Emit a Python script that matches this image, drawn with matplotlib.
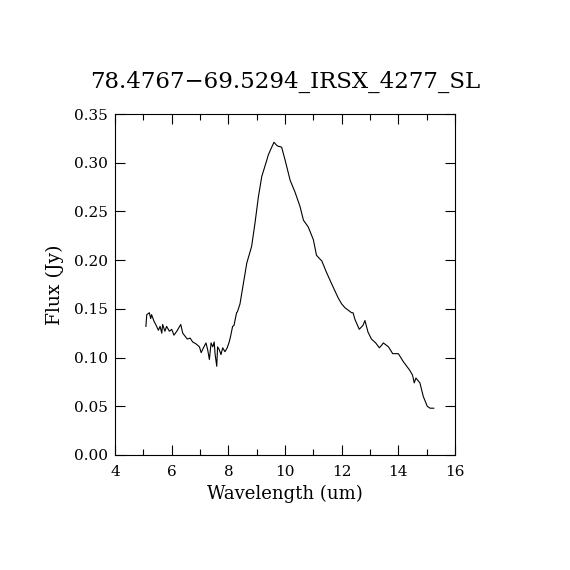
import numpy as np
import matplotlib.pyplot as plt
from matplotlib.ticker import MultipleLocator

# spectrum (wavelength in um, flux in Jy)
wavelength = [
    5.09, 5.12, 5.21, 5.26, 5.29, 5.38, 5.47, 5.53, 5.59, 5.65,
    5.68, 5.76, 5.82, 5.92, 6.00, 6.08, 6.18, 6.32, 6.39, 6.47,
    6.55, 6.65, 6.74, 6.86, 6.98, 7.04, 7.12, 7.21, 7.27, 7.33,
    7.39, 7.45, 7.50, 7.53, 7.59, 7.62, 7.68, 7.74, 7.80, 7.88,
    7.96, 8.03, 8.08, 8.15, 8.20, 8.24, 8.29, 8.32, 8.41, 8.53,
    8.65, 8.82, 8.94, 9.06, 9.18, 9.35, 9.41, 9.50, 9.61, 9.70,
    9.75, 9.88, 10.00, 10.18, 10.35, 10.53, 10.65, 10.82, 11.00, 11.11,
    11.30, 11.47, 11.64, 11.88, 12.00, 12.12, 12.35, 12.40, 12.47, 12.62,
    12.75, 12.82, 12.93, 13.05, 13.20, 13.33, 13.42, 13.47, 13.56, 13.65,
    13.80, 14.00, 14.17, 14.40, 14.50, 14.56, 14.62, 14.76, 14.88, 15.02,
    15.12, 15.25,
]
flux = [
    0.132, 0.144, 0.146, 0.140, 0.144, 0.137, 0.132, 0.128, 0.132, 0.125,
    0.134, 0.127, 0.132, 0.127, 0.129, 0.123, 0.127, 0.134, 0.125, 0.122,
    0.119, 0.120, 0.116, 0.114, 0.111, 0.105, 0.110, 0.115, 0.108, 0.098,
    0.115, 0.111, 0.116, 0.104, 0.091, 0.111, 0.108, 0.103, 0.110, 0.106,
    0.110, 0.116, 0.122, 0.132, 0.133, 0.139, 0.146, 0.147, 0.155, 0.176,
    0.197, 0.214, 0.238, 0.265, 0.286, 0.302, 0.308, 0.314, 0.321, 0.318,
    0.317, 0.316, 0.303, 0.282, 0.270, 0.255, 0.241, 0.234, 0.221, 0.205,
    0.199, 0.187, 0.176, 0.161, 0.155, 0.151, 0.146, 0.146, 0.139, 0.129,
    0.133, 0.138, 0.126, 0.119, 0.115, 0.110, 0.113, 0.115, 0.113, 0.111,
    0.104, 0.104, 0.096, 0.087, 0.082, 0.074, 0.079, 0.074, 0.060, 0.050,
    0.048, 0.048,
]

title = "78.4767\u221269.5294_IRSX_4277_SL"

plt.rcParams['font.family'] = ['DejaVu Serif']

fig = plt.figure(figsize=(5.7, 5.7), dpi=100)
ax = fig.add_axes([0.2018, 0.2018, 0.5965, 0.5982])

ax.plot(wavelength, flux, color='black', linewidth=0.8)

ax.set_xlim(4, 16)
ax.set_ylim(0, 0.35)
ax.xaxis.set_major_locator(MultipleLocator(2))
ax.xaxis.set_minor_locator(MultipleLocator(1))
ax.yaxis.set_major_locator(MultipleLocator(0.05))
ax.yaxis.set_major_formatter(plt.FormatStrFormatter('%.2f'))
ax.tick_params(which='both', direction='in', top=True, right=True,
               labelsize=11, width=0.8)
ax.tick_params(axis='x', pad=7)
ax.tick_params(axis='y', pad=5)
ax.tick_params(which='major', length=7)
ax.tick_params(which='minor', length=4)
for spine in ax.spines.values():
    spine.set_linewidth(0.8)

ax.set_xlabel('Wavelength (um)', fontsize=13, labelpad=4)
ax.set_ylabel('Flux (Jy)', fontsize=13.5, labelpad=7)
ax.set_title(title, fontsize=16.5, pad=19)

fig.savefig('out.png', dpi=100)
